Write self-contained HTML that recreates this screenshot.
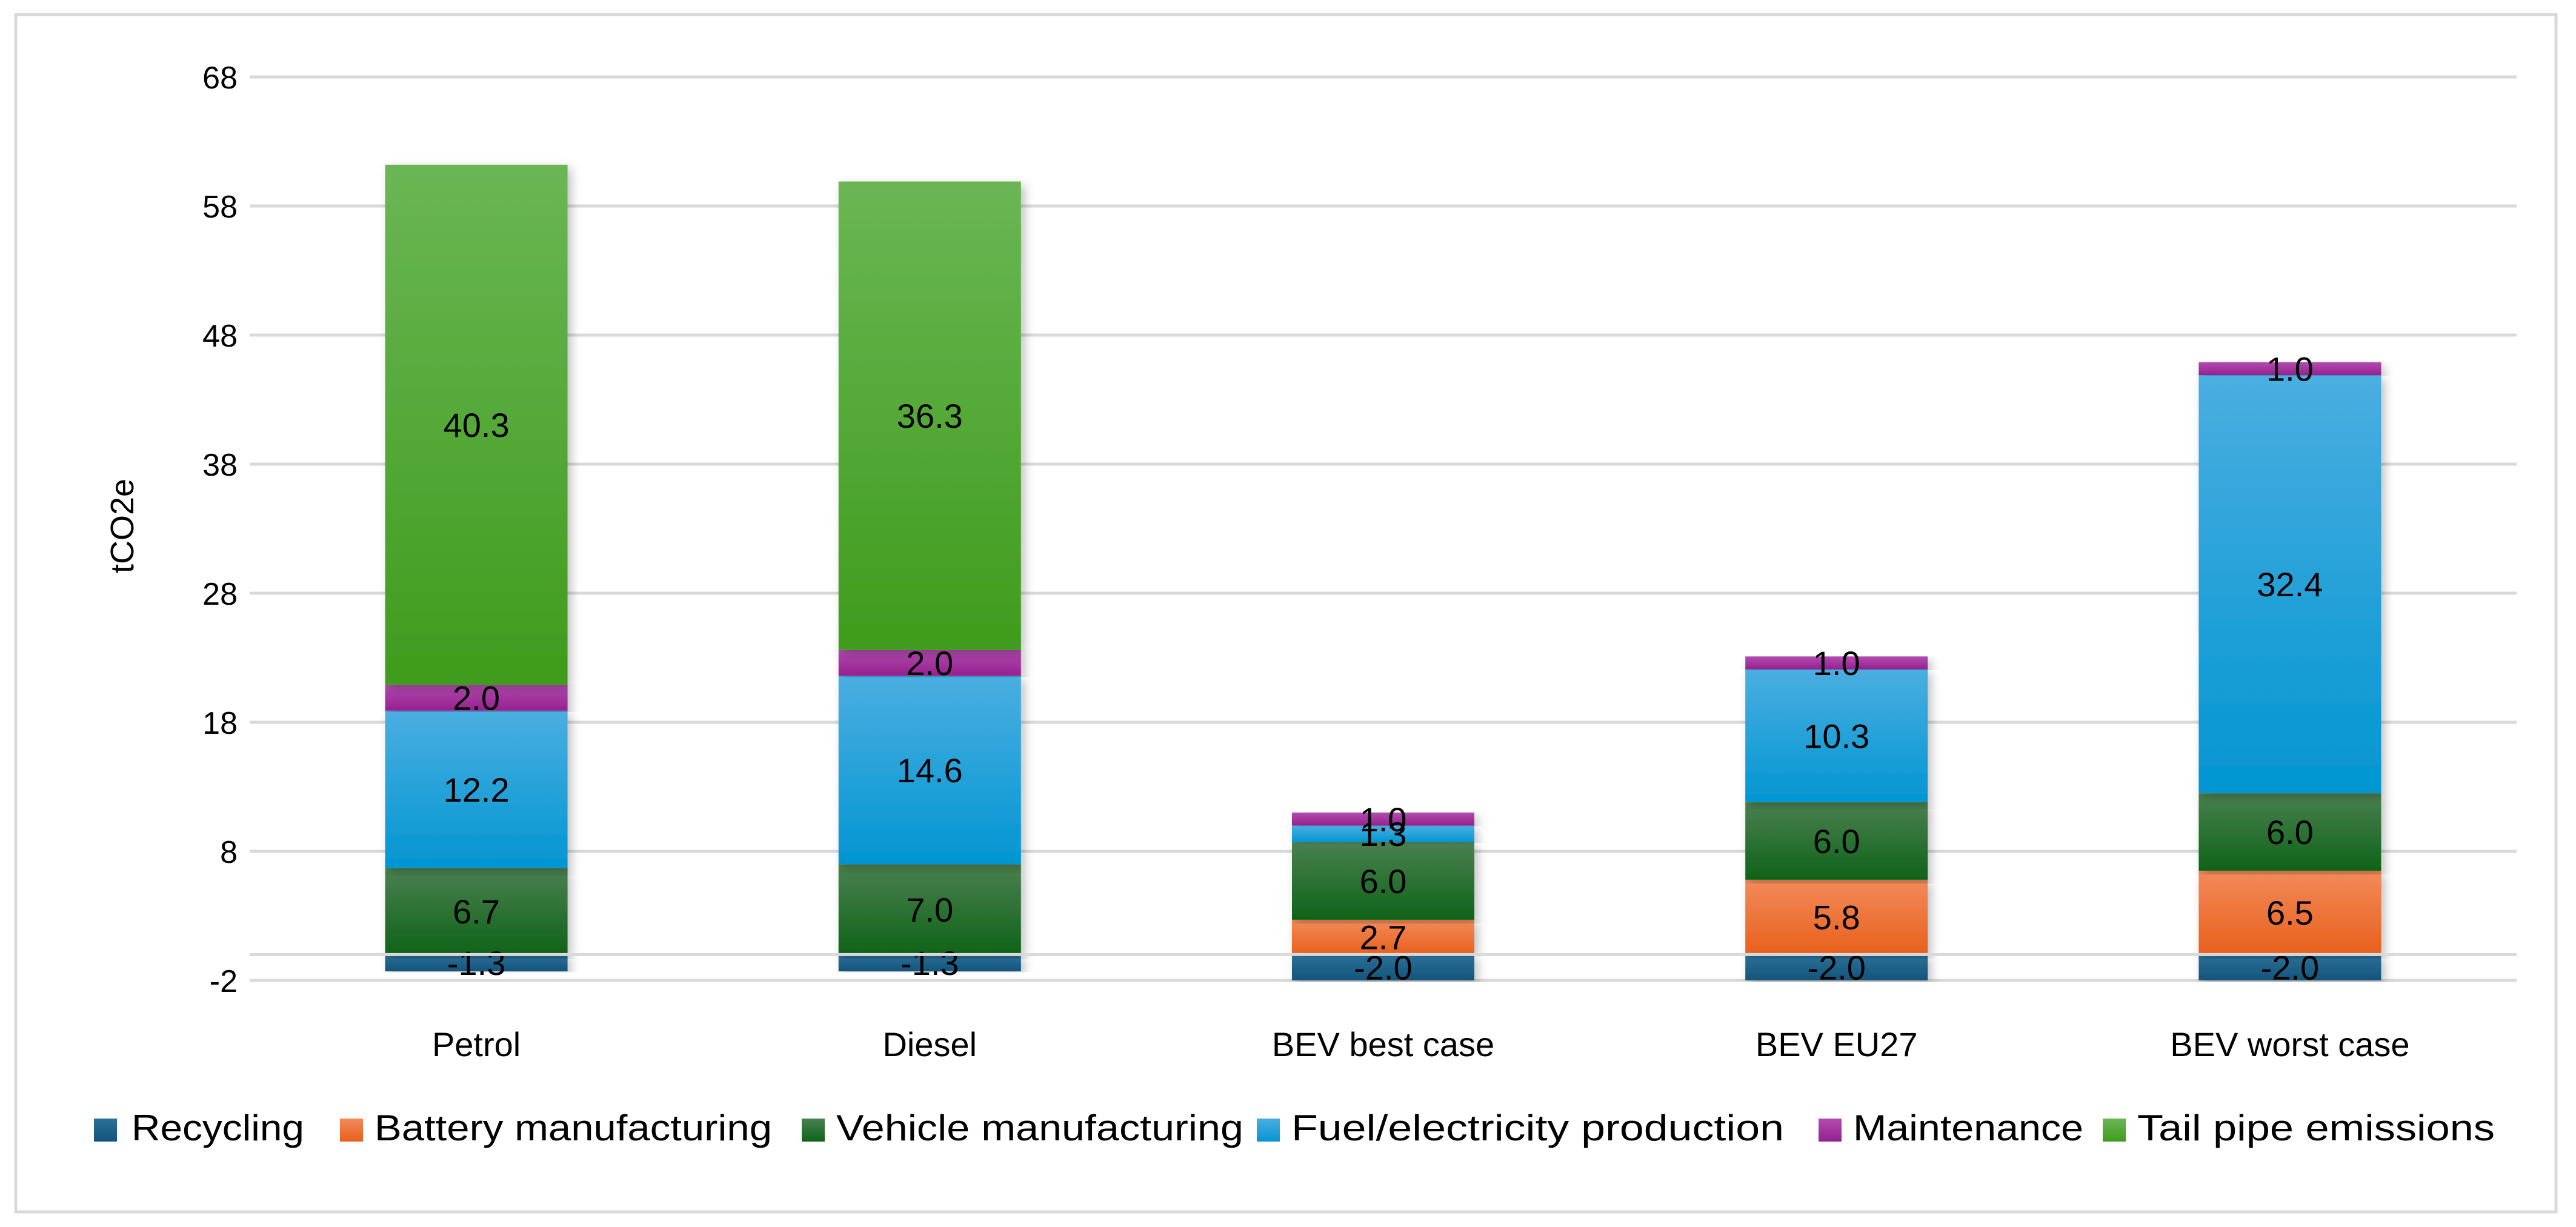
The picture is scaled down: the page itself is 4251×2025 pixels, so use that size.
<!DOCTYPE html>
<html><head><meta charset="utf-8"><style>
html,body{margin:0;padding:0;background:#fff}
svg{display:block;font-family:"Liberation Sans",sans-serif}
</style></head><body>
<svg id="chart" width="4251" height="2025" viewBox="0 0 4251 2025" xmlns="http://www.w3.org/2000/svg">
<defs>
<filter id="sh" x="-20%" y="-5%" width="140%" height="110%"><feDropShadow dx="6" dy="6" stdDeviation="8" flood-color="#000" flood-opacity="0.25"/></filter>
</defs>
<rect x="26" y="24" width="4192" height="1976" fill="#fff" stroke="#d9d9d9" stroke-width="5"/>
<g id="grid"></g><g id="bars"></g><g id="labels"></g><g id="legend"></g>
<text transform="translate(220,868) rotate(-90)" text-anchor="middle" font-size="54" fill="#000">tCO2e</text>
</svg>
<script>
const categories = ["Petrol","Diesel","BEV best case","BEV  EU27","BEV  worst case"];
const seriesNames = ["Recycling","Battery manufacturing","Vehicle manufacturing","Fuel/electricity production","Maintenance","Tail pipe emissions"];
const recycling = [-1.3,-1.3,-2.0,-2.0,-2.0];
const battery = [0,0,2.7,5.8,6.5];
const vehicle = [6.7,7.0,6.0,6.0,6.0];
const fuel = [12.2,14.6,1.3,10.3,32.4];
const maintenance = [2.0,2.0,1.0,1.0,1.0];
const tailpipe = [40.3,36.3,0,0,0];
const yTicks = [-2,8,18,28,38,48,58,68];

const series = [recycling,battery,vehicle,fuel,maintenance,tailpipe];
const colors = [["#2c6f97","#13557c"],["#f28a5a","#e8601c"],["#4a8050","#0f6318"],["#4aaee0","#0296d2"],["#b24cb0","#96208f"],["#6ab654","#3f9c1c"]];
const NS="http://www.w3.org/2000/svg";
const svg=document.getElementById('chart');
const defs=svg.querySelector('defs');
const plotL=412, plotR=4153, yMin=-2, yMax=68, yTop=127, yBot=1618;
function y(v){return yBot-(v-yMin)/(yMax-yMin)*(yBot-yTop);}
const band=(plotR-plotL)/categories.length;
function xc(i){return plotL+band*(i+0.5);}
const barW=301;
function mk(tag,attrs,parent){const e=document.createElementNS(NS,tag);for(const k in attrs)e.setAttribute(k,attrs[k]);parent.appendChild(e);return e;}
colors.forEach((c,i)=>{const g=mk('linearGradient',{id:'g'+i,x1:0,y1:0,x2:0,y2:1},defs);mk('stop',{offset:0,'stop-color':c[0]},g);mk('stop',{offset:1,'stop-color':c[1]},g);});

const grid=document.getElementById('grid');
yTicks.forEach(t=>{
  const l=mk('line',{x1:plotL,x2:plotR,y1:y(t),y2:y(t),stroke:'#d9d9d9','stroke-width':5},grid);
  
  
  const tx=mk('text',{x:392,y:y(t)+19,'text-anchor':'end','font-size':52,fill:'#000'},grid);
  tx.textContent=t;
  
  
});
const bars=document.getElementById('bars'), labels=document.getElementById('labels');
categories.forEach((cat,i)=>{
  let pos=0, neg=0;
  series.forEach((s,k)=>{
    const v=s[i]; if(!v) return;
    let y0,y1;
    if(v>=0){y0=pos;y1=pos+v;pos=y1;}else{y0=neg+v;y1=neg;neg=y0;}
    const r=mk('rect',{x:xc(i)-barW/2,y:y(y1),width:barW,height:y(y0)-y(y1),fill:'url(#g'+k+')',filter:'url(#sh)'},bars);
    
    
    const t=mk('text',{x:xc(i),y:y((y0+y1)/2)+20,'text-anchor':'middle','font-size':56,fill:'#000'},labels);
    t.textContent=v.toFixed(1);
    
    
  });
  const c=mk('text',{x:xc(i),y:1743,'text-anchor':'middle','font-size':56,fill:'#000'},labels);
  c.textContent=cat;
  
  
});
const zl=mk('line',{x1:plotL,x2:plotR,y1:y(0),y2:y(0),stroke:'#d9d9d9','stroke-width':5},labels);



const legend=document.getElementById('legend');
const legSq=[155,561,1323,2074,3001,3470];
const legTx=[[217,285],[618,656],[1380,672],[2131,813],[3058,380],[3527,590]];
seriesNames.forEach((n,k)=>{
  const r=mk('rect',{x:legSq[k],y:1846,width:38,height:38,fill:'url(#g'+k+')'},legend);
  
  
  const t=mk('text',{x:legTx[k][0],y:1882,'font-size':60,fill:'#000',textLength:legTx[k][1],lengthAdjust:'spacingAndGlyphs'},legend);
  t.textContent=n;
  
  
});
</script>
</body></html>
